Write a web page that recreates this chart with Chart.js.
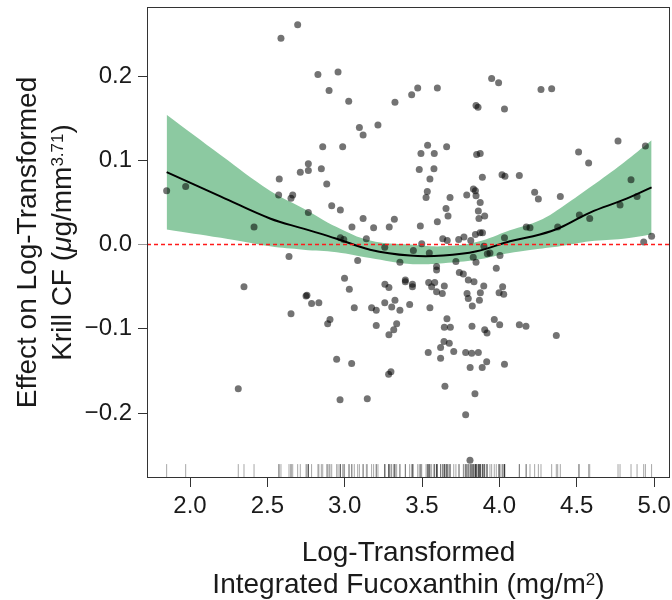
<!DOCTYPE html>
<html>
<head>
<meta charset="utf-8">
<script src="https://cdn.jsdelivr.net/npm/chart.js@4.4.1/dist/chart.umd.min.js"></script>
<style>
    html, body { margin: 0; padding: 0; background: #fff; }
    canvas { display: block; }
</style>
</head>
<body>
<canvas id="chart" width="672" height="600"></canvas>
<script>
// partial residuals (x = log fucoxanthin, y = effect)
const ptX = [
    1.849, 1.972, 2.588, 2.696, 2.827, 2.957, 2.899, 3.026, 3.325, 3.095,
    3.119, 3.215, 2.858, 2.987, 2.765, 2.765, 2.713, 2.849, 2.577, 2.884,
    2.573, 2.664, 2.653, 2.414, 2.765, 2.916, 2.972, 3.047, 3.119, 3.187,
    3.288, 3.321, 2.972, 2.994, 3.140,
    3.433, 3.472, 3.599, 3.950, 3.995, 4.269, 4.338, 3.849, 3.862, 4.033,
    3.536, 3.659, 3.493, 3.579, 3.853, 3.876, 3.482, 3.577, 3.551, 3.890,
    4.017, 4.036, 4.129, 4.512, 4.577, 4.767, 4.944, 3.534, 3.526, 3.681,
    3.832, 3.845, 3.789, 3.849, 3.876, 3.655, 3.668, 3.599, 3.489, 3.864,
    3.868, 3.905, 4.228, 4.252, 4.394, 4.851, 4.890, 4.780, 4.517, 4.584,
    4.377, 4.174, 4.198, 4.033, 3.634, 3.663, 3.737, 3.771, 3.815, 3.845,
    3.875, 3.891, 3.900, 4.984, 4.933, 3.498,
    3.444, 3.547, 3.357, 3.719, 3.831, 3.849, 3.922, 3.939, 4.004, 3.594,
    3.594, 3.980, 3.741, 3.767, 3.392, 3.392, 3.438, 3.438, 3.543, 3.582,
    3.562, 3.644, 3.799, 3.836, 3.899, 4.021, 3.594, 3.631, 3.791, 3.799,
    3.877, 3.871, 3.998, 4.028, 3.357, 3.420, 3.551, 3.825, 3.661, 3.644,
    3.683, 3.823, 3.905, 3.920, 3.967, 4.002, 4.129, 4.172, 4.368, 3.642,
    3.676, 3.620, 3.540, 3.705, 3.782, 3.821, 3.864, 3.620, 3.811, 3.889,
    3.918, 4.033, 3.648, 3.842, 3.782, 3.810,
    2.640, 2.349, 3.084, 3.259, 2.999, 3.030, 2.756, 2.750, 2.786, 2.833,
    2.653, 2.905, 2.890, 3.062, 3.174, 3.204, 3.260, 3.286, 3.259, 3.304,
    3.325, 3.204, 3.336, 3.317, 3.286, 2.948, 3.045, 3.299, 3.284, 2.312,
    2.970, 3.146
];
const ptY = [
    0.064, 0.069, 0.245, 0.261, 0.202, 0.205, 0.183, 0.170, 0.169, 0.139,
    0.130, 0.142, 0.116, 0.116, 0.096, 0.088, 0.086, 0.090, 0.078, 0.072,
    0.059, 0.059, 0.055, 0.021, 0.038, 0.046, 0.041, 0.021, 0.031, 0.020,
    0.021, 0.030, 0.008, 0.006, 0.007,
    0.178, 0.186, 0.186, 0.197, 0.192, 0.184, 0.185, 0.165, 0.163, 0.161,
    0.118, 0.116, 0.108, 0.108, 0.107, 0.108, 0.089, 0.090, 0.078, 0.080,
    0.083, 0.081, 0.082, 0.110, 0.097, 0.123, 0.117, 0.063, 0.056, 0.056,
    0.066, 0.064, 0.059, 0.058, 0.050, 0.043, 0.034, 0.027, 0.022, 0.040,
    0.031, 0.034, 0.062, 0.054, 0.057, 0.077, 0.057, 0.047, 0.035, 0.031,
    0.021, 0.021, 0.020, 0.008, 0.007, 0.005, 0.006, 0.009, 0.005, 0.012,
    0.014, 0.014, -0.002, 0.010, 0.003, 0.001,
    -0.007, -0.010, -0.021, -0.020, -0.015, -0.021, -0.011, -0.010, -0.013, -0.026,
    -0.030, -0.028, -0.033, -0.035, -0.042, -0.044, -0.047, -0.050, -0.045, -0.045,
    -0.050, -0.049, -0.042, -0.044, -0.049, -0.050, -0.056, -0.058, -0.058, -0.064,
    -0.057, -0.066, -0.057, -0.059, -0.078, -0.071, -0.075, -0.073, -0.088, -0.098,
    -0.098, -0.097, -0.101, -0.105, -0.089, -0.095, -0.095, -0.097, -0.108, -0.115,
    -0.117, -0.122, -0.128, -0.127, -0.128, -0.129, -0.128, -0.135, -0.146, -0.146,
    -0.139, -0.142, -0.168, -0.177, -0.202, -0.256,
    -0.014, -0.050, -0.019, -0.003, -0.040, -0.053, -0.060, -0.061, -0.070, -0.069,
    -0.082, -0.089, -0.094, -0.075, -0.075, -0.078, -0.047, -0.051, -0.069, -0.074,
    -0.066, -0.096, -0.094, -0.101, -0.107, -0.136, -0.141, -0.151, -0.154, -0.171,
    -0.184, -0.183
];

// smooth term and its confidence band
const fitX  = [1.849, 2.200, 2.517, 2.733, 2.948, 3.164, 3.422, 3.638, 3.853, 4.068, 4.262, 4.391, 4.586, 4.801, 4.984];
const fitY  = [0.086, 0.057, 0.031, 0.019, 0.007, -0.006, -0.013, -0.013, -0.008, 0.004, 0.012, 0.020, 0.038, 0.053, 0.068];
const fitHi = [0.154, 0.106, 0.064, 0.043, 0.021, 0.005, 0.000, -0.002, 0.003, 0.017, 0.029, 0.043, 0.068, 0.097, 0.124];
const fitLo = [0.018, 0.008, -0.002, -0.006, -0.009, -0.016, -0.023, -0.022, -0.018, -0.010, -0.005, -0.002, 0.004, 0.007, 0.012];

const xTicks = [2.0, 2.5, 3.0, 3.5, 4.0, 4.5, 5.0];
const yTicks = [-0.2, -0.1, 0.0, 0.1, 0.2];
const xRange = [1.722, 5.103];
const yRange = [-0.277, 0.282];
const RUG_Y = -0.2688;

const FONT = '"Liberation Sans", Arial, Helvetica, sans-serif';
const TEXT = "#1a1a1a";

function toPts(xs, ys) {
    return xs.map((x, i) => ({ x: x, y: ys[i] }));
}

function partFont(p, size) {
    return (p.it ? "italic " : "") + (p.sup ? Math.round(size * 0.62) : size) + "px " + FONT;
}

// draws a centred line of text made of parts (some superscript / italic)
function drawParts(ctx, parts, size) {
    let total = 0;
    parts.forEach(p => {
        ctx.font = partFont(p, size);
        p.w = ctx.measureText(p.t).width;
        total += p.w;
    });
    let x = -total / 2;
    const base = size * 0.35;
    parts.forEach(p => {
        ctx.font = partFont(p, size);
        ctx.fillText(p.t, x, p.sup ? base - size * 0.27 : base);
        x += p.w;
    });
}

const frame = {
    id: "frame",
    afterDraw(chart) {
        const ctx = chart.ctx;
        const a = chart.chartArea;
        ctx.save();
        ctx.strokeStyle = "#333";
        ctx.lineWidth = 1;
        ctx.strokeRect(a.left + 0.5, a.top + 0.5, a.right - a.left - 1, a.bottom - a.top - 1);

        ctx.fillStyle = TEXT;
        ctx.textAlign = "left";
        ctx.textBaseline = "alphabetic";
        const size = 28;
        const cx = (a.left + a.right) / 2;

        ctx.save();
        ctx.translate(cx, 551);
        drawParts(ctx, [{ t: "Log-Transformed" }], size);
        ctx.restore();
        ctx.save();
        ctx.translate(cx, 583);
        drawParts(ctx, [{ t: "Integrated Fucoxanthin (mg/m" }, { t: "2", sup: true }, { t: ")" }], size);
        ctx.restore();

        const cy = (a.top + a.bottom) / 2;
        ctx.save();
        ctx.translate(26, cy);
        ctx.rotate(-Math.PI / 2);
        drawParts(ctx, [{ t: "Effect on Log-Transformed" }], size);
        ctx.restore();
        ctx.save();
        ctx.translate(61, cy);
        ctx.rotate(-Math.PI / 2);
        drawParts(ctx, [{ t: "Krill CF (" }, { t: "\u03bc", it: true }, { t: "g/mm" }, { t: "3.71", sup: true }, { t: ")" }], size);
        ctx.restore();
        ctx.restore();
    }
};

const ctx = document.getElementById("chart").getContext("2d");

new Chart(ctx, {
    type: "scatter",
    data: {
        datasets: [
            {
                // zero reference line
                type: "line",
                data: [{ x: xRange[0], y: 0 }, { x: xRange[1], y: 0 }],
                borderColor: "#ff1a1a",
                borderWidth: 1.5,
                borderDash: [4, 3],
                pointRadius: 0,
                order: 0
            },
            {
                type: "line",
                data: toPts(fitX, fitY),
                borderColor: "#000",
                borderWidth: 2,
                pointRadius: 0,
                tension: 0.4,
                order: 1
            },
            {
                data: toPts(ptX, ptY),
                backgroundColor: "rgba(0,0,0,0.55)",
                borderWidth: 0,
                pointRadius: 3.5,
                order: 2
            },
            {
                // rug
                data: ptX.map(x => ({ x: x, y: RUG_Y })),
                pointStyle: "line",
                rotation: 90,
                pointRadius: 7,
                borderColor: "rgba(0,0,0,0.35)",
                borderWidth: 1,
                order: 3
            },
            {
                type: "line",
                data: toPts(fitX, fitLo),
                borderWidth: 0,
                pointRadius: 0,
                tension: 0.4,
                fill: false,
                order: 5
            },
            {
                type: "line",
                data: toPts(fitX, fitHi),
                borderWidth: 0,
                pointRadius: 0,
                tension: 0.4,
                backgroundColor: "#8cc9a1",
                fill: 4,
                order: 4
            }
        ]
    },
    options: {
        responsive: false,
        animation: false,
        events: [],
        layout: { autoPadding: false, padding: { top: 7, right: 2, left: 0, bottom: 0 } },
        plugins: {
            legend: { display: false },
            tooltip: { enabled: false }
        },
        scales: {
            x: {
                type: "linear",
                min: xRange[0],
                max: xRange[1],
                afterBuildTicks: s => { s.ticks = xTicks.map(v => ({ value: v })); },
                afterFit: s => { s.height = 122; s.paddingLeft = 0; s.paddingRight = 0; },
                border: { display: false },
                grid: { drawOnChartArea: false, tickLength: 9, tickColor: "#333" },
                ticks: {
                    color: TEXT,
                    font: { family: FONT, size: 24 },
                    padding: 5,
                    maxRotation: 0,
                    callback: v => v.toFixed(1)
                }
            },
            y: {
                min: yRange[0],
                max: yRange[1],
                afterBuildTicks: s => { s.ticks = yTicks.map(v => ({ value: v })); },
                afterFit: s => { s.width = 147; s.paddingTop = 0; s.paddingBottom = 0; },
                border: { display: false },
                grid: {
                    drawOnChartArea: false,
                    tickLength: 9,
                    tickColor: c => (c.tick && c.tick.value === 0 ? "#999" : "#333")
                },
                ticks: {
                    color: TEXT,
                    font: { family: FONT, size: 24 },
                    padding: 6,
                    callback: v => v.toFixed(1).replace("-", "\u2212")
                }
            }
        }
    },
    plugins: [frame]
});
</script>
</body>
</html>
